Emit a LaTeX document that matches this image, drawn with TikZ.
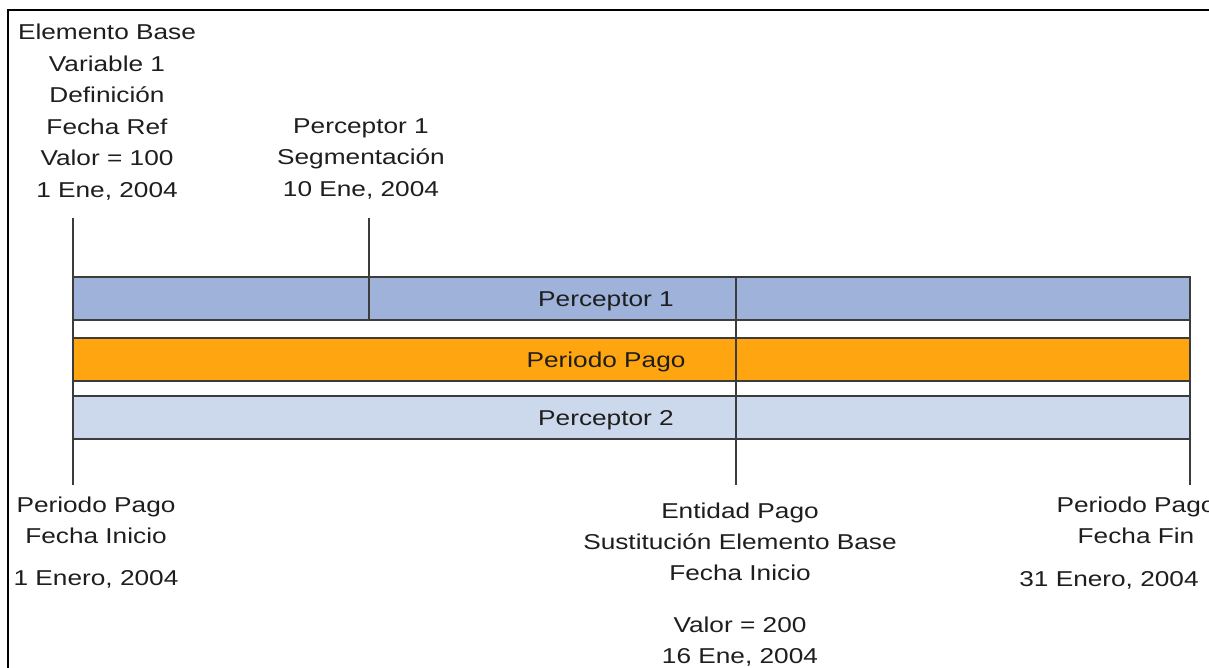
\documentclass[tikz,border=0pt]{standalone}
\usepackage{fontspec}
\setmainfont{Liberation Sans}[FakeStretch=1.22]
\usetikzlibrary{positioning}
\definecolor{barblue}{RGB}{158,178,218}
\definecolor{barorange}{RGB}{255,165,15}
\definecolor{barlight}{RGB}{204,217,236}
\definecolor{edge}{RGB}{60,60,60}
\definecolor{ink}{RGB}{30,30,30}

\begin{document}
\begin{tikzpicture}[x=0.5pt, y=-0.5pt,
    bar/.style={draw=edge, line width=1pt},
    tick/.style={draw=edge, line width=1pt},
    toplbl/.style={align=center, inner sep=0pt, anchor=north, text=ink, font=\fontsize{10.75}{15.75}\selectfont},
    botlbl/.style={align=center, inner sep=0pt, anchor=north, text=ink, font=\fontsize{10.75}{15.5}\selectfont},
    barlbl/.style={inner sep=0pt, anchor=base, text=ink, font=\fontsize{10.75}{13}\selectfont}]
    \useasboundingbox (0,0) rectangle (1209,668);
    % frame
    \draw[line width=1pt] (8,668) -- (8,10) -- (1209,10);
    % bars
    \foreach \y/\c in {277/barblue, 338/barorange, 396/barlight} {
        \draw[bar, fill=\c] (73,\y) rectangle (1190,\y+43);
    }
    \node[barlbl] (per1) at (606,306) {Perceptor 1};
    \node[barlbl] (pago) at (606,367) {Periodo Pago};
    \node[barlbl] (per2) at (606,425) {Perceptor 2};
    % date lines
    \coordinate (t0) at (73,218);   \coordinate (b0) at (73,485);
    \coordinate (t1) at (369,218);  \coordinate (b1) at (369,320);
    \coordinate (t2) at (736,277);  \coordinate (b2) at (736,485);
    \coordinate (t3) at (1190,277); \coordinate (b3) at (1190,485);
    \foreach \i in {0,1,2,3} {
        \draw[tick] (t\i) -- (b\i);
    }
    % labels above
    \node[toplbl] (base) at (107,24) {Elemento Base\\Variable 1\\Definición\\Fecha Ref\\Valor = 100\\1 Ene, 2004};
    \node[toplbl] (segm) at (361,118) {Perceptor 1\\Segmentación\\10 Ene, 2004};
    % labels below
    \node[botlbl] (ini) at (96,497) {Periodo Pago\\Fecha Inicio};
    \node[botlbl, below=12.5pt of ini] (inidate) {1 Enero, 2004};
    \node[botlbl] (sust) at (740,503) {Entidad Pago\\Sustitución Elemento Base\\Fecha Inicio};
    \node[botlbl, below=17.5pt of sust] (sustval) {Valor = 200\\16 Ene, 2004};
    \node[botlbl] (fin) at (1136,497) {Periodo Pago\\Fecha Fin};
    \node[botlbl, below=13pt of fin, xshift=-13.5pt] (findate) {31 Enero, 2004};
\end{tikzpicture}
\end{document}
